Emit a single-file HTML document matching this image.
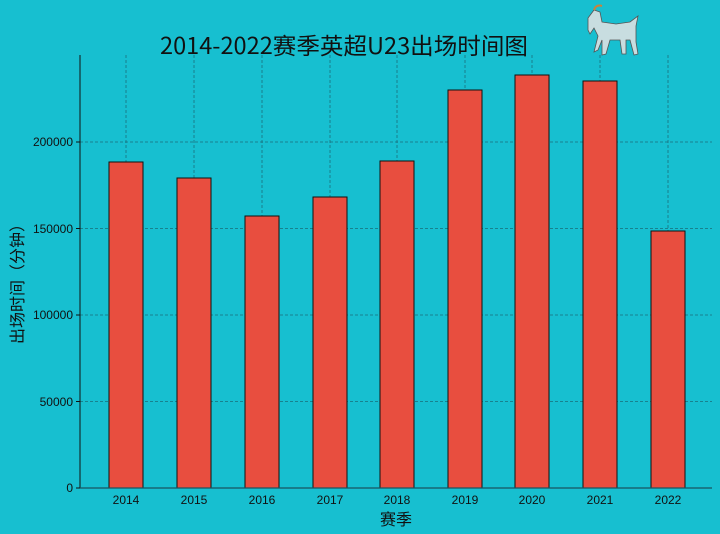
<!DOCTYPE html><html><head><meta charset="utf-8"><style>body{margin:0;background:#17bfd0;}svg{display:block}</style></head><body>
<svg width="720" height="534" xmlns="http://www.w3.org/2000/svg" font-family="Liberation Sans, Noto Sans CJK SC, sans-serif">
<rect width="720" height="534" fill="#17bfd0"/>
<g stroke="#1a6f7a" stroke-width="0.8" stroke-dasharray="3,2">
<line x1="80" x2="712" y1="401.5" y2="401.5"/><line x1="80" x2="712" y1="315" y2="315"/><line x1="80" x2="712" y1="228.5" y2="228.5"/><line x1="80" x2="712" y1="142" y2="142"/>
<line x1="126" x2="126" y1="55" y2="488"/><line x1="194" x2="194" y1="55" y2="488"/><line x1="262" x2="262" y1="55" y2="488"/><line x1="330" x2="330" y1="55" y2="488"/><line x1="397" x2="397" y1="55" y2="488"/><line x1="465" x2="465" y1="55" y2="488"/><line x1="532" x2="532" y1="55" y2="488"/><line x1="600" x2="600" y1="55" y2="488"/><line x1="668" x2="668" y1="55" y2="488"/>
</g>
<g fill="#e84e3f" stroke="#111" stroke-width="1">
<rect x="109" y="162" width="34" height="326"/><rect x="177" y="178" width="34" height="310"/><rect x="245" y="216" width="34" height="272"/><rect x="313" y="197" width="34" height="291"/><rect x="380" y="161" width="34" height="327"/><rect x="448" y="90" width="34" height="398"/><rect x="515" y="75" width="34" height="413"/><rect x="583" y="81" width="34" height="407"/><rect x="651" y="231" width="34" height="257"/>
</g>
<line x1="80" x2="80" y1="55" y2="488" stroke="#111"/><line x1="80" x2="712" y1="488" y2="488" stroke="#1a5560" stroke-width="1.2"/>
<g stroke="#111"><line x1="76" x2="80" y1="488" y2="488"/><line x1="76" x2="80" y1="401.5" y2="401.5"/><line x1="76" x2="80" y1="315" y2="315"/><line x1="76" x2="80" y1="228.5" y2="228.5"/><line x1="76" x2="80" y1="142" y2="142"/></g>
<g font-size="12" fill="#111" text-anchor="end"><text x="73" y="492">0</text><text x="73" y="406">50000</text><text x="73" y="319">100000</text><text x="73" y="233">150000</text><text x="73" y="146">200000</text></g>
<g font-size="12" fill="#111" text-anchor="middle"><text x="126" y="504">2014</text><text x="194" y="504">2015</text><text x="262" y="504">2016</text><text x="330" y="504">2017</text><text x="397" y="504">2018</text><text x="465" y="504">2019</text><text x="532" y="504">2020</text><text x="600" y="504">2021</text><text x="668" y="504">2022</text></g>
<text x="396" y="525" font-size="16" text-anchor="middle" fill="#111">赛季</text>
<text transform="translate(23,280) rotate(-90)" font-size="16" text-anchor="middle" fill="#111">出场时间（分钟）</text>
<text x="344" y="54" font-size="23" text-anchor="middle" fill="#111" font-family="WenQuanYi Zen Hei, Noto Sans CJK SC, sans-serif" textLength="368" lengthAdjust="spacingAndGlyphs">2014-2022赛季英超U23出场时间图</text>
<g>
<path d="M588 18 L594 10 L600 12 L602 22 L616 24 L630 22 L638 16 L636 26 L636 42 L638 54 L634 55 L630 40 L626 40 L626 54 L622 54 L620 40 L610 40 L606 54 L602 55 L602 40 L598 50 L594 52 L598 36 L594 28 L590 34 L588 30 Z" fill="#c8dde0" stroke="#555" stroke-width="0.8"/>
<path d="M594 10 Q596 4 602 6" stroke="#c9833a" stroke-width="2" fill="none"/>
</g>
</svg>
</body></html>
